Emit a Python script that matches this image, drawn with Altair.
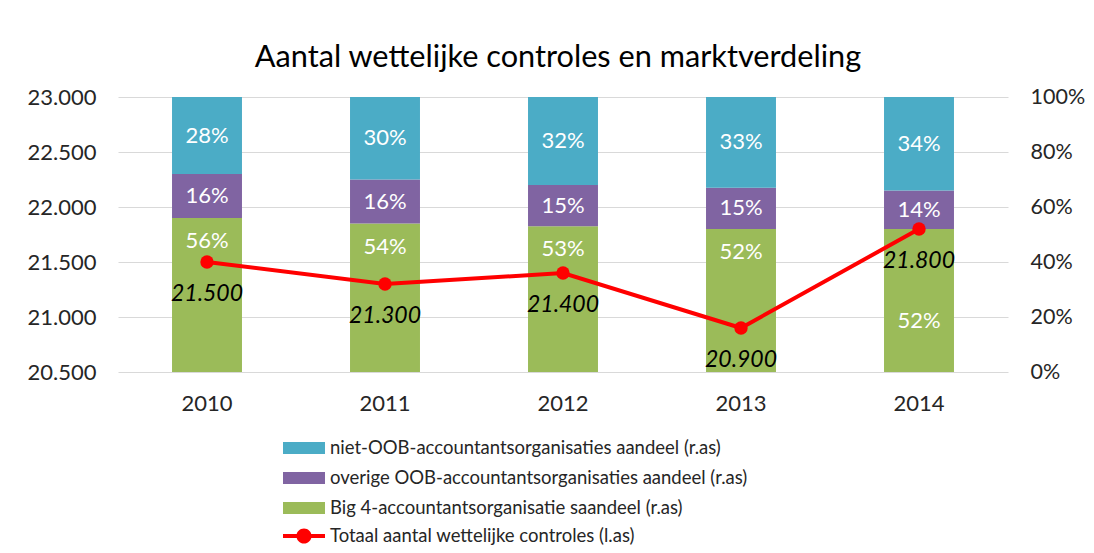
import altair as alt
import pandas as pd

years = ["2010", "2011", "2012", "2013", "2014"]
series_names = [
    "niet-OOB-accountantsorganisaties aandeel (r.as)",
    "overige OOB-accountantsorganisaties aandeel (r.as)",
    "Big 4-accountantsorganisatie saandeel (r.as)",
]
share_niet = [0.28, 0.30, 0.32, 0.33, 0.34]
share_overig = [0.16, 0.16, 0.15, 0.15, 0.14]
share_big4 = [0.56, 0.54, 0.53, 0.52, 0.52]
totals = [21500, 21300, 21400, 20900, 21800]
line_name = "Totaal aantal wettelijke controles (l.as)"
title_text = "Aantal wettelijke controles en marktverdeling"

colors = ["#4BACC6", "#8064A2", "#9BBB59"]
RED = "#FF0000"
FONT = "Lato"
TXT = "#262626"

# stack order: Big 4 at bottom
stack_series = [(series_names[2], share_big4), (series_names[1], share_overig), (series_names[0], share_niet)]
rows = []
for i, y in enumerate(years):
    for o, (name, vals) in enumerate(stack_series):
        rows.append({"year": y, "series": name, "share": vals[i], "ord": o, "total": totals[i]})
bars_df = pd.DataFrame(rows)
line_df = pd.DataFrame({"year": years, "total": totals, "name": [line_name] * len(years)})

x_enc = alt.X(
    "year:N", title=None,
    scale=alt.Scale(paddingInner=0.607, paddingOuter=0.3035),
    axis=alt.Axis(labelAngle=0, labelFontSize=22, labelPadding=21, domain=False, ticks=False,
                  labelColor=TXT, labelFont=FONT),
)
y_share_scale = alt.Scale(domain=[0, 1])

legend_common = dict(orient="none", title=None, direction="vertical", symbolSize=1764,
                     symbolStrokeWidth=0, symbolOpacity=1, labelFontSize=18.5, labelFont=FONT,
                     labelColor=TXT, labelOffset=5, labelLimit=800, clipHeight=22)

bars = alt.Chart(bars_df).mark_bar().encode(
    x=x_enc,
    y=alt.Y("share:Q", stack="zero", scale=y_share_scale, title=None,
            axis=alt.Axis(orient="right", format=".0%", values=[0, 0.2, 0.4, 0.6, 0.8, 1.0],
                          labelFontSize=21.5, labelFont=FONT, labelColor=TXT, grid=False,
                          domain=False, ticks=False, labelPadding=22)),
    color=alt.Color("series:N", scale=alt.Scale(domain=series_names, range=colors),
                    legend=alt.Legend(legendX=165, legendY=340, rowPadding=8,
                                      symbolType="M-1,-0.29L1,-0.29L1,0.29L-1,0.29Z",
                                      **legend_common)),
    order=alt.Order("ord:Q"),
)

text_base = alt.Chart(bars_df).transform_stack(
    stack="share", groupby=["year"], sort=[alt.SortField("ord")], as_=["s0", "s1"]
).transform_calculate(
    mid="(datum.s0 + datum.s1) / 2",
    lab="format(datum.share, '.0%')",
    collide="abs((datum.total - 20500) / 2500 - datum.s1) < 0.05 ? 1 : 0",
)
txt_props = dict(color="white", fontSize=22, font=FONT)

mid_labels = text_base.transform_filter("datum.ord > 0").mark_text(**txt_props).encode(
    x=x_enc, y=alt.Y("mid:Q", scale=y_share_scale, title=None), text="lab:N")
top_labels = text_base.transform_filter("datum.ord == 0 && datum.collide == 0").mark_text(
    dy=23, **txt_props).encode(x=x_enc, y=alt.Y("s1:Q", scale=y_share_scale, title=None), text="lab:N")
low_labels = text_base.transform_filter("datum.ord == 0 && datum.collide == 1").mark_text(
    dy=20, **txt_props).encode(x=x_enc, y=alt.Y("mid:Q", scale=y_share_scale, title=None), text="lab:N")

bar_layer = alt.layer(bars, mid_labels, top_labels, low_labels)

y_tot_scale = alt.Scale(domain=[20500, 23000])
line = alt.Chart(line_df).mark_line(color=RED, strokeWidth=4).encode(
    x=x_enc,
    y=alt.Y("total:Q", scale=y_tot_scale, title=None,
            axis=alt.Axis(orient="left", values=[20500, 21000, 21500, 22000, 22500, 23000],
                          labelExpr="replace(format(datum.value, ',.0f'), ',', '.')",
                          grid=True, gridColor="#D9D9D9", gridWidth=1, domain=False, ticks=False,
                          labelFontSize=22, labelFont=FONT, labelColor=TXT, labelPadding=22)),
)
points = alt.Chart(line_df).mark_circle(size=180, opacity=1).encode(
    x=x_enc,
    y=alt.Y("total:Q", scale=y_tot_scale, title=None),
    fill=alt.Fill("name:N", scale=alt.Scale(domain=[line_name], range=[RED]),
                  legend=alt.Legend(legendX=165, legendY=428,
                                    symbolType="M-1,-0.095L1,-0.095L1,0.095L-1,0.095Z M0.36,0 A0.36,0.36 0 1,1 -0.36,0 A0.36,0.36 0 1,1 0.36,0 Z",
                                    **legend_common)),
)
line_labels = alt.Chart(line_df).transform_calculate(
    lbl="replace(format(datum.total, ',.0f'), ',', '.')"
).mark_text(dy=32, fontSize=23, fontStyle="italic", font=FONT, color="#000000").encode(
    x=x_enc, y=alt.Y("total:Q", scale=y_tot_scale, title=None), text="lbl:N")

line_layer = alt.layer(line, points, line_labels)

chart = alt.layer(bar_layer, line_layer).resolve_scale(
    y="independent"
).properties(
    width=890, height=275,
    autosize=alt.AutoSizeParams(type="none"),
    padding={"left": 110, "top": 89, "right": 78, "bottom": 173},
    title=alt.TitleParams(title_text, fontSize=30.7, font=FONT, fontWeight="normal", color="#000000",
                          anchor="middle", offset=12, dx=-5),
).configure(background="white", view=alt.ViewConfig(stroke=None))

chart.save("out.html", embed_options={"renderer": "svg", "actions": False})
